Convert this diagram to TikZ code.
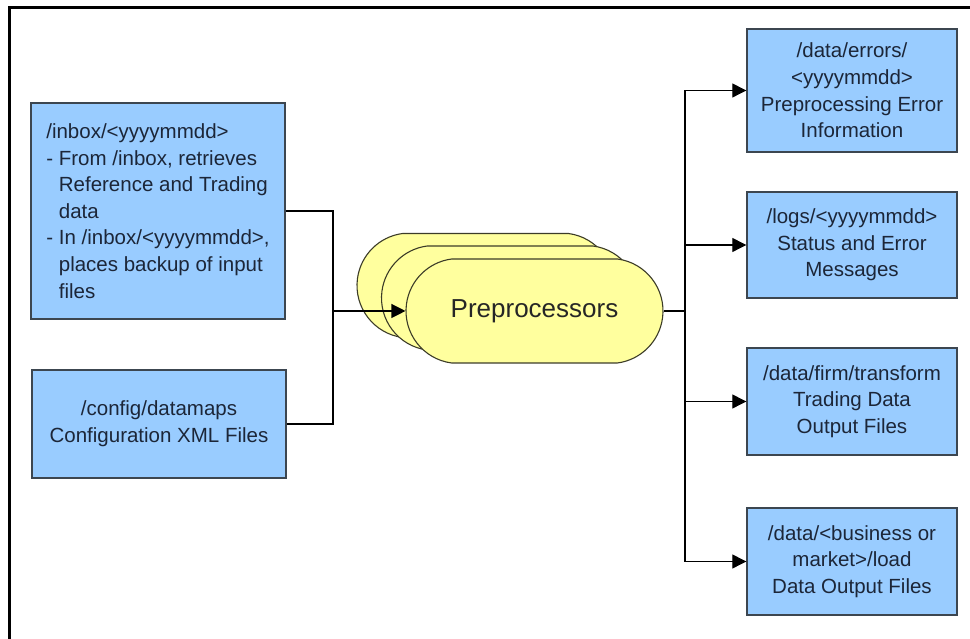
\documentclass[tikz,border=0pt]{standalone}
\usepackage{fontspec}
\setmainfont{Liberation Sans}
\usetikzlibrary{arrows.meta,shapes.misc}
\definecolor{boxfill}{RGB}{153,204,255}
\definecolor{boxline}{RGB}{60,70,80}
\definecolor{txt}{RGB}{28,38,56}
\definecolor{procfill}{RGB}{255,255,158}
\definecolor{procline}{RGB}{60,60,40}
\tikzset{
  x=1pt,y=1pt,
  filebox/.style={draw=boxline,line width=1.4pt,fill=boxfill,text=txt,
    font=\fontsize{20.5}{26.6}\selectfont,align=center,inner sep=0pt},
  procshape/.style={rounded rectangle,rounded rectangle arc length=165,
    draw=procline,line width=1.1pt,fill=procfill,
    minimum width=257pt,minimum height=104pt,inner sep=0pt},
  conn/.style={draw=black,line width=1.2pt},
  arr/.style={conn,-{Triangle[length=14pt,width=14pt]}},
}
\begin{document}
\begin{tikzpicture}
\useasboundingbox (0,0) rectangle (970,639);
\fill[white] (0,0) rectangle (970,639);
% frame (screenshot border)
\draw[line width=3.5pt] (9.5,0) -- (9.5,631.5) -- (970,631.5);

% input boxes
\node[filebox,minimum width=254pt,minimum height=216pt,align=left] (inbox) at (158,428)
  {/inbox/<yyyymmdd>\\
   - From /inbox, retrieves\\
   \phantom{- }Reference and Trading\\
   \phantom{- }data\\
   - In /inbox/<yyyymmdd>,\\
   \phantom{- }places backup of input\\
   \phantom{- }files};
\node[filebox,minimum width=254pt,minimum height=108pt] (config) at (159,215)
  {/config/datamaps\\Configuration XML Files};

% preprocessors stack
\node[procshape] (p3) at (485.5,353.5) {};
\node[procshape] (p2) at (510,341) {};
\node[procshape,text=black!85,font=\fontsize{26}{30}\selectfont] (p1) at (534.5,328) {Preprocessors};

% output boxes
\node[filebox,minimum width=210pt,minimum height=123pt] (err) at (852,548.5)
  {/data/errors/\\<yyyymmdd>\\Preprocessing Error\\Information};
\node[filebox,minimum width=210pt,minimum height=106pt] (logs) at (852,394)
  {/logs/<yyyymmdd>\\Status and Error\\Messages};
\node[filebox,minimum width=210pt,minimum height=107pt] (trans) at (852,237.5)
  {/data/firm/transform\\Trading Data\\Output Files};
\node[filebox,minimum width=210pt,minimum height=107pt] (load) at (852,77.5)
  {/data/<business or\\market>/load\\Data Output Files};

% left connectors
\coordinate (jl) at (333,328);
\draw[conn] (inbox.east) -| (jl) |- (config.east);
\draw[arr] (jl) -- (p1.west);

% right connectors
\coordinate (jr) at (685,328);
\draw[conn,line width=2pt] (p1.east) -- (jr);
\draw[conn] (jr) |- (err.west);
\draw[conn] (jr) |- (load.west);
\draw[arr] (685,548.5) -- (err.west);
\draw[arr] (685,394) -- (logs.west);
\draw[arr] (685,237.5) -- (trans.west);
\draw[arr] (685,77.5) -- (load.west);
\end{tikzpicture}
\end{document}
